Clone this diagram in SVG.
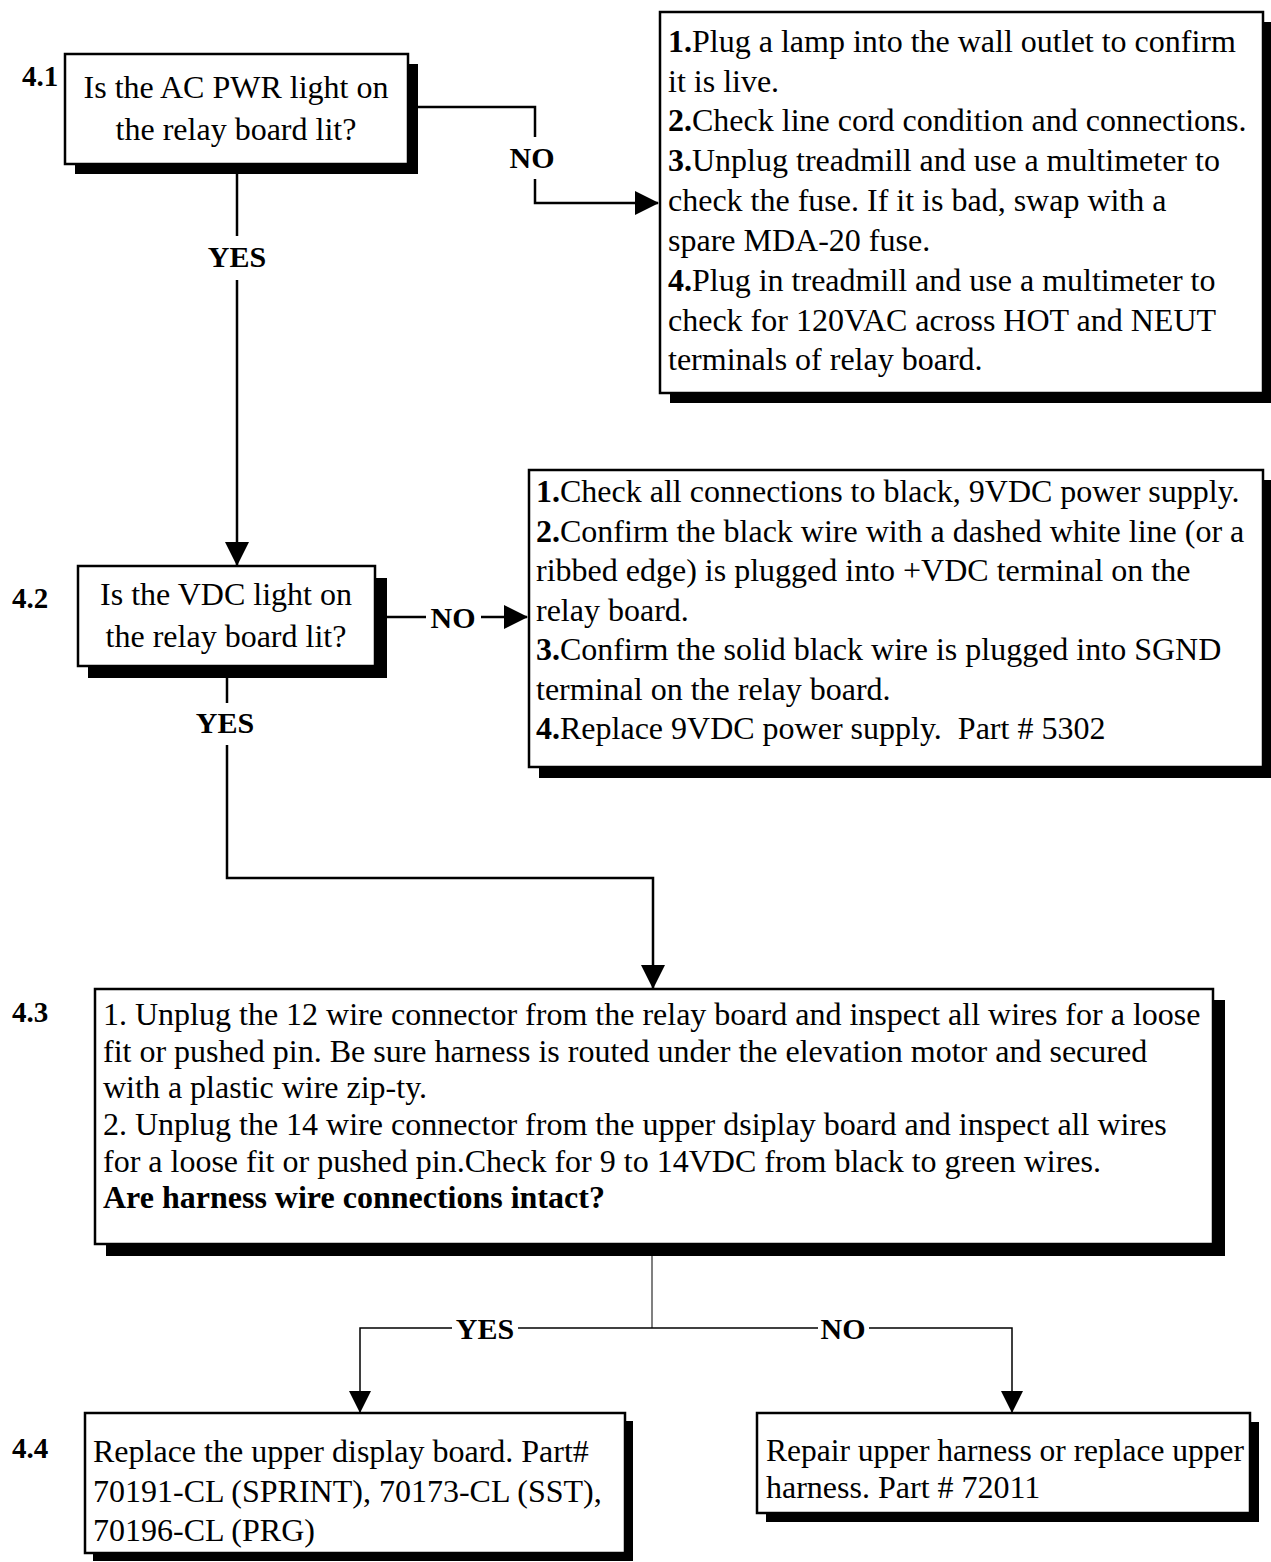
<svg xmlns="http://www.w3.org/2000/svg" width="1271" height="1562" viewBox="0 0 1271 1562">
<style>
text{font-family:"Liberation Serif","Times New Roman",serif;fill:#000}
.t{font-size:32px}
.c{text-anchor:middle}
.b{font-weight:bold}
.lbl{font-size:30px;font-weight:bold;text-anchor:middle}
.num{font-size:29px;font-weight:bold}
.pre{white-space:pre}
.box{fill:#fff;stroke:#000;stroke-width:2.5}
.sh{fill:#000}
.ln{fill:none;stroke:#000;stroke-width:2.5}
.thin{fill:none;stroke:#000;stroke-width:1.5}
.gray{fill:none;stroke:#808080;stroke-width:2}
</style>
<defs>
<marker id="ah" markerWidth="24" markerHeight="24" viewBox="0 0 24 24" refX="23" refY="12" orient="auto" markerUnits="userSpaceOnUse">
<path d="M0,0 L24,12 L0,24 Z" fill="#000"/>
</marker>
<marker id="ahs" markerWidth="22" markerHeight="22" viewBox="0 0 22 22" refX="21" refY="11" orient="auto" markerUnits="userSpaceOnUse">
<path d="M0,0 L22,11 L0,22 Z" fill="#000"/>
</marker>
</defs>

<g id="connectors">
<!-- 4.1 NO -->
<polyline class="ln" points="408,107 535,107 535,137"/>
<polyline class="ln" points="535,179 535,203 658,203" marker-end="url(#ah)"/>
<text class="lbl" x="532" y="168">NO</text>
<!-- 4.1 YES -->
<line class="ln" x1="237" y1="164" x2="237" y2="236"/>
<line class="ln" x1="237" y1="280" x2="237" y2="565" marker-end="url(#ah)"/>
<text class="lbl" x="237" y="267">YES</text>
<!-- 4.2 NO -->
<line class="ln" x1="375" y1="617" x2="426" y2="617"/>
<line class="ln" x1="481" y1="617" x2="527" y2="617" marker-end="url(#ah)"/>
<text class="lbl" x="453" y="628">NO</text>
<!-- 4.2 YES -->
<line class="ln" x1="227" y1="666" x2="227" y2="703"/>
<polyline class="ln" points="227,745 227,878 653,878 653,988" marker-end="url(#ah)"/>
<text class="lbl" x="225" y="733">YES</text>
<!-- 4.3 branches -->
<line class="gray" x1="652" y1="1244" x2="652" y2="1328"/>
<polyline class="thin" points="652,1328 518,1328"/>
<polyline class="thin" points="452,1328 360,1328 360,1412" marker-end="url(#ahs)"/>
<text class="lbl" x="485" y="1339">YES</text>
<polyline class="thin" points="652,1328 818,1328"/>
<polyline class="thin" points="869,1328 1012,1328 1012,1412" marker-end="url(#ahs)"/>
<text class="lbl" x="843" y="1339">NO</text>
</g>

<g id="node-4-1">
<rect class="sh" x="75" y="64" width="343" height="110"/>
<rect class="box" x="65" y="54" width="343" height="110"/>
<text class="num" x="22" y="86">4.1</text>
<text class="t c" x="236" y="98">Is the AC PWR light on</text>
<text class="t c" x="236" y="140">the relay board lit?</text>
</g>

<g id="node-4-1-no">
<rect class="sh" x="670" y="22" width="603" height="381"/>
<rect class="box" x="660" y="12" width="603" height="381"/>
<text class="t" x="668" y="52"><tspan class="b">1.</tspan>Plug a lamp into the wall outlet to confirm</text>
<text class="t" x="668" y="92">it is live.</text>
<text class="t" x="668" y="131"><tspan class="b">2.</tspan>Check line cord condition and connections.</text>
<text class="t" x="668" y="171"><tspan class="b">3.</tspan>Unplug treadmill and use a multimeter to</text>
<text class="t" x="668" y="211">check the fuse. If it is bad, swap with a</text>
<text class="t" x="668" y="251">spare MDA-20 fuse.</text>
<text class="t" x="668" y="291"><tspan class="b">4.</tspan>Plug in treadmill and use a multimeter to</text>
<text class="t" x="668" y="331">check for 120VAC across HOT and NEUT</text>
<text class="t" x="668" y="370">terminals of relay board.</text>
</g>

<g id="node-4-2">
<rect class="sh" x="88" y="578" width="299" height="100"/>
<rect class="box" x="78" y="566" width="297" height="100"/>
<text class="num" x="12" y="608">4.2</text>
<text class="t c" x="226" y="605">Is the VDC light on</text>
<text class="t c" x="226" y="647">the relay board lit?</text>
</g>

<g id="node-4-2-no">
<rect class="sh" x="539" y="480" width="734" height="298"/>
<rect class="box" x="529" y="470" width="734" height="297"/>
<text class="t" x="536" y="502"><tspan class="b">1.</tspan>Check all connections to black, 9VDC power supply.</text>
<text class="t" x="536" y="542"><tspan class="b">2.</tspan>Confirm the black wire with a dashed white line (or a</text>
<text class="t" x="536" y="581">ribbed edge) is plugged into +VDC terminal on the</text>
<text class="t" x="536" y="621">relay board.</text>
<text class="t" x="536" y="660"><tspan class="b">3.</tspan>Confirm the solid black wire is plugged into SGND</text>
<text class="t" x="536" y="700">terminal on the relay board.</text>
<text class="t pre" x="536" y="739" xml:space="preserve"><tspan class="b">4.</tspan>Replace 9VDC power supply.  Part # 5302</text>
</g>

<g id="node-4-3">
<rect class="sh" x="106" y="1000" width="1119" height="256"/>
<rect class="box" x="95" y="989" width="1118" height="255"/>
<text class="num" x="12" y="1022">4.3</text>
<text class="t" x="103" y="1025">1. Unplug the 12 wire connector from the relay board and inspect all wires for a loose</text>
<text class="t" x="103" y="1062">fit or pushed pin. Be sure harness is routed under the elevation motor and secured</text>
<text class="t" x="103" y="1098">with a plastic wire zip-ty.</text>
<text class="t" x="103" y="1135">2. Unplug the 14 wire connector from the upper dsiplay board and inspect all wires</text>
<text class="t" x="103" y="1172">for a loose fit or pushed pin.Check for 9 to 14VDC from black to green wires.</text>
<text class="t b" x="103" y="1208">Are harness wire connections intact?</text>
</g>

<g id="node-4-4">
<rect class="sh" x="93" y="1421" width="540" height="140"/>
<rect class="box" x="85" y="1413" width="540" height="140"/>
<text class="num" x="12" y="1458">4.4</text>
<text class="t" x="93" y="1462">Replace the upper display board. Part#</text>
<text class="t" x="93" y="1502">70191-CL (SPRINT), 70173-CL (SST),</text>
<text class="t" x="93" y="1541">70196-CL (PRG)</text>
</g>

<g id="node-4-3-no">
<rect class="sh" x="766" y="1422" width="493" height="100"/>
<rect class="box" x="757" y="1413" width="493" height="100"/>
<text class="t" x="766" y="1461" textLength="478" lengthAdjust="spacingAndGlyphs">Repair upper harness or replace upper</text>
<text class="t" x="766" y="1498">harness. Part # 72011</text>
</g>
</svg>
